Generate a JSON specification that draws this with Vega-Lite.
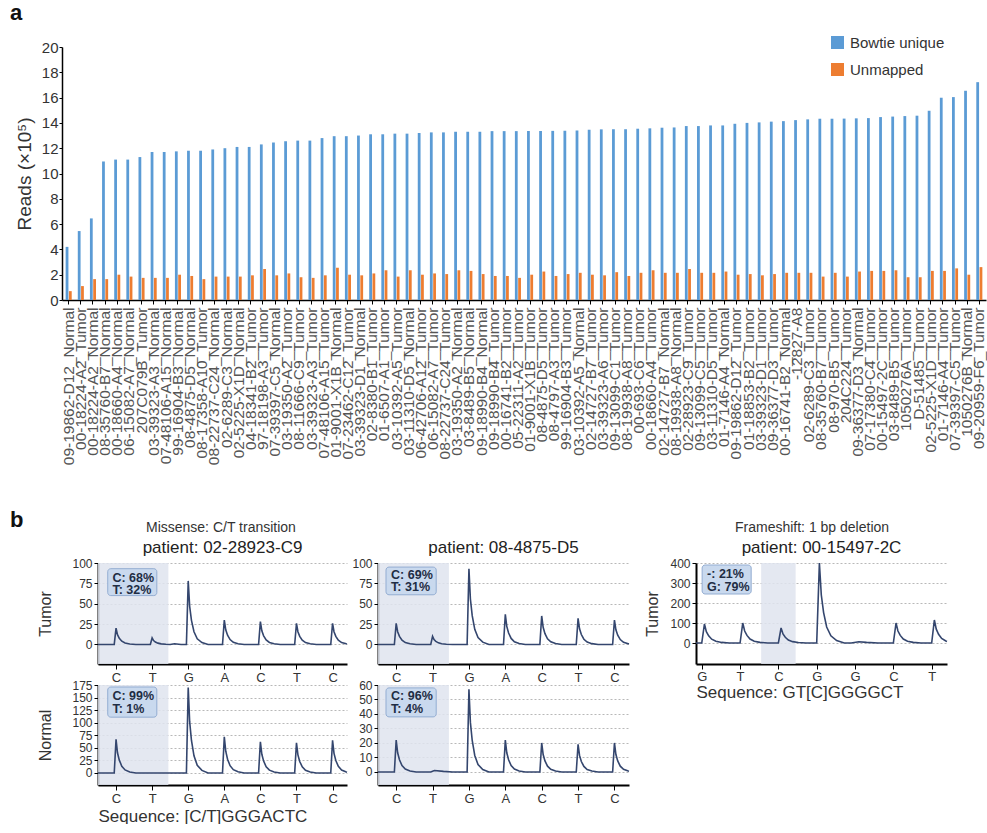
{
"$schema":"https://vega.github.io/schema/vega-lite/v6.json",
"background":"white",
"padding":{"left":10,"top":2,"right":0,"bottom":0},
"config":{"font":"Liberation Sans","view":{"stroke":null},"title":{"color":"#222","fontWeight":"normal"}},
"datasets":{
"reads":[
{"sample":"09-19862-D12_Normal","Bowtie unique":4.2,"Unmapped":0.7},
{"sample":"00-18224-A2_Tumor","Bowtie unique":5.45,"Unmapped":1.1},
{"sample":"00-18224-A2_Normal","Bowtie unique":6.45,"Unmapped":1.65},
{"sample":"08-35760-B7_Normal","Bowtie unique":10.95,"Unmapped":1.65},
{"sample":"00-18660-A4_Normal","Bowtie unique":11.1,"Unmapped":2.0},
{"sample":"06-15082-A7_Normal","Bowtie unique":11.1,"Unmapped":1.85},
{"sample":"207C079B_Tumor","Bowtie unique":11.3,"Unmapped":1.75},
{"sample":"03-39323-A3_Normal","Bowtie unique":11.7,"Unmapped":1.75},
{"sample":"07-48106-A15_Normal","Bowtie unique":11.7,"Unmapped":1.75},
{"sample":"99-16904-B3_Normal","Bowtie unique":11.75,"Unmapped":2.0},
{"sample":"08-4875-D5_Normal","Bowtie unique":11.8,"Unmapped":1.9},
{"sample":"08-17358-A10_Tumor","Bowtie unique":11.8,"Unmapped":1.65},
{"sample":"08-22737-C24_Normal","Bowtie unique":11.9,"Unmapped":1.85},
{"sample":"02-6289-C3_Normal","Bowtie unique":12.0,"Unmapped":1.85},
{"sample":"02-5225-X1D_Normal","Bowtie unique":12.1,"Unmapped":1.85},
{"sample":"04-18341-B2_Tumor","Bowtie unique":12.1,"Unmapped":1.95},
{"sample":"97-18198-A3_Tumor","Bowtie unique":12.3,"Unmapped":2.45},
{"sample":"07-39397-C5_Normal","Bowtie unique":12.45,"Unmapped":1.95},
{"sample":"03-19350-A2_Tumor","Bowtie unique":12.55,"Unmapped":2.1},
{"sample":"08-11666-C9_Tumor","Bowtie unique":12.6,"Unmapped":1.8},
{"sample":"03-39323-A3_Tumor","Bowtie unique":12.6,"Unmapped":1.75},
{"sample":"07-48106-A15_Tumor","Bowtie unique":12.8,"Unmapped":1.95},
{"sample":"01-9001-X1B_Normal","Bowtie unique":12.95,"Unmapped":2.55},
{"sample":"07-23462-C12_Tumor","Bowtie unique":12.95,"Unmapped":2.0},
{"sample":"03-39323-D1_Normal","Bowtie unique":13.0,"Unmapped":1.95},
{"sample":"02-8380-B1_Tumor","Bowtie unique":13.1,"Unmapped":2.1},
{"sample":"01-6507-A1_Tumor","Bowtie unique":13.1,"Unmapped":2.35},
{"sample":"03-10392-A5_Tumor","Bowtie unique":13.15,"Unmapped":1.85},
{"sample":"03-11310-D5_Normal","Bowtie unique":13.15,"Unmapped":2.35},
{"sample":"06-42706-A12_Tumor","Bowtie unique":13.2,"Unmapped":2.0},
{"sample":"06-15082-A7_Tumor","Bowtie unique":13.25,"Unmapped":2.1},
{"sample":"08-22737-C24_Tumor","Bowtie unique":13.25,"Unmapped":2.05},
{"sample":"03-19350-A2_Normal","Bowtie unique":13.3,"Unmapped":2.35},
{"sample":"03-8489-B5_Normal","Bowtie unique":13.3,"Unmapped":2.3},
{"sample":"09-18990-B4_Normal","Bowtie unique":13.3,"Unmapped":2.05},
{"sample":"09-18990-B4_Tumor","Bowtie unique":13.35,"Unmapped":1.9},
{"sample":"00-16741-B2_Tumor","Bowtie unique":13.35,"Unmapped":1.9},
{"sample":"05-22311-A2_Tumor","Bowtie unique":13.35,"Unmapped":1.75},
{"sample":"01-9001-X1B_Tumor","Bowtie unique":13.36,"Unmapped":2.0},
{"sample":"08-4875-D5_Tumor","Bowtie unique":13.36,"Unmapped":2.25},
{"sample":"08-4797-A3_Tumor","Bowtie unique":13.37,"Unmapped":1.9},
{"sample":"99-16904-B3_Tumor","Bowtie unique":13.38,"Unmapped":2.05},
{"sample":"03-10392-A5_Normal","Bowtie unique":13.4,"Unmapped":2.15},
{"sample":"02-14727-B7_Tumor","Bowtie unique":13.46,"Unmapped":2.0},
{"sample":"03-39323-A6_Tumor","Bowtie unique":13.49,"Unmapped":1.95},
{"sample":"09-13099-C1_Tumor","Bowtie unique":13.5,"Unmapped":2.2},
{"sample":"08-19938-A8_Tumor","Bowtie unique":13.5,"Unmapped":1.9},
{"sample":"00-693-C6_Tumor","Bowtie unique":13.54,"Unmapped":2.15},
{"sample":"00-18660-A4_Tumor","Bowtie unique":13.57,"Unmapped":2.35},
{"sample":"02-14727-B7_Normal","Bowtie unique":13.62,"Unmapped":2.15},
{"sample":"08-19938-A8_Normal","Bowtie unique":13.64,"Unmapped":2.15},
{"sample":"02-28923-C9_Tumor","Bowtie unique":13.75,"Unmapped":2.45},
{"sample":"09-13099-C5_Tumor","Bowtie unique":13.75,"Unmapped":2.15},
{"sample":"03-11310-D5_Tumor","Bowtie unique":13.8,"Unmapped":2.15},
{"sample":"01-7146-A4_Normal","Bowtie unique":13.8,"Unmapped":2.25},
{"sample":"09-19862-D12_Tumor","Bowtie unique":13.93,"Unmapped":2.0},
{"sample":"01-18853-B2_Tumor","Bowtie unique":14.0,"Unmapped":2.05},
{"sample":"03-39323-D1_Tumor","Bowtie unique":14.04,"Unmapped":1.95},
{"sample":"09-36377-D3_Tumor","Bowtie unique":14.1,"Unmapped":2.05},
{"sample":"00-16741-B2_Normal","Bowtie unique":14.14,"Unmapped":2.15},
{"sample":"-12827-A8","Bowtie unique":14.22,"Unmapped":2.15},
{"sample":"02-6289-C3_Tumor","Bowtie unique":14.28,"Unmapped":2.15},
{"sample":"08-35760-B7_Tumor","Bowtie unique":14.33,"Unmapped":1.85},
{"sample":"08-970-B5_Tumor","Bowtie unique":14.33,"Unmapped":2.15},
{"sample":"204C224_Tumor","Bowtie unique":14.34,"Unmapped":1.85},
{"sample":"09-36377-D3_Normal","Bowtie unique":14.36,"Unmapped":2.25},
{"sample":"07-17380-C4_Tumor","Bowtie unique":14.38,"Unmapped":2.3},
{"sample":"00-15497-2C_Tumor","Bowtie unique":14.46,"Unmapped":2.3},
{"sample":"03-8489-B5_Tumor","Bowtie unique":14.5,"Unmapped":2.35},
{"sample":"1050276A_Tumor","Bowtie unique":14.54,"Unmapped":1.8},
{"sample":"D-51485_Tumor","Bowtie unique":14.57,"Unmapped":1.8},
{"sample":"02-5225-X1D_Tumor","Bowtie unique":14.96,"Unmapped":2.3},
{"sample":"01-7146-A4_Tumor","Bowtie unique":15.99,"Unmapped":2.3},
{"sample":"07-39397-C5_Tumor","Bowtie unique":16.04,"Unmapped":2.5},
{"sample":"1050276B_Normal","Bowtie unique":16.54,"Unmapped":2.0},
{"sample":"09-20959-F6_Tumor","Bowtie unique":17.22,"Unmapped":2.6}
],
"t1":[
{"x":-0.5,"y":0},{"x":-0.05,"y":0},{"x":0,"y":20},{"x":0.04,"y":12},{"x":0.09,"y":7.6},{"x":0.16,"y":4},{"x":0.25,"y":1.8},{"x":0.38,"y":0.6},{"x":0.55,"y":0},
{"x":0.95,"y":0},{"x":1,"y":8},{"x":1.04,"y":4.8},{"x":1.09,"y":3},{"x":1.16,"y":1.6},{"x":1.25,"y":0.7},{"x":1.38,"y":0.2},{"x":1.5,"y":0},{"x":1.62,"y":0.8},{"x":1.8,"y":0},
{"x":1.95,"y":0},{"x":2,"y":78},{"x":2.04,"y":46.8},{"x":2.09,"y":29.6},{"x":2.16,"y":15.6},{"x":2.25,"y":7},{"x":2.38,"y":2.3},{"x":2.55,"y":0},
{"x":2.95,"y":0},{"x":3,"y":30},{"x":3.04,"y":18},{"x":3.09,"y":11.4},{"x":3.16,"y":6},{"x":3.25,"y":2.7},{"x":3.38,"y":0.9},{"x":3.55,"y":0},
{"x":3.95,"y":0},{"x":4,"y":28},{"x":4.04,"y":16.8},{"x":4.09,"y":10.6},{"x":4.16,"y":5.6},{"x":4.25,"y":2.5},{"x":4.38,"y":0.8},{"x":4.55,"y":0},
{"x":4.95,"y":0},{"x":5,"y":26},{"x":5.04,"y":15.6},{"x":5.09,"y":9.9},{"x":5.16,"y":5.2},{"x":5.25,"y":2.3},{"x":5.38,"y":0.8},{"x":5.55,"y":0},
{"x":5.95,"y":0},{"x":6,"y":26},{"x":6.04,"y":15.6},{"x":6.09,"y":9.9},{"x":6.16,"y":5.2},{"x":6.25,"y":2.3},{"x":6.38,"y":0.8},{"x":6.4,"y":0.6}
],
"n1":[
{"x":-0.5,"y":0},{"x":-0.05,"y":0},{"x":0,"y":67},{"x":0.04,"y":40.2},{"x":0.09,"y":25.5},{"x":0.16,"y":13.4},{"x":0.25,"y":6},{"x":0.38,"y":2},{"x":0.55,"y":0},
{"x":1.95,"y":0},{"x":2,"y":170},{"x":2.04,"y":102},{"x":2.09,"y":64.6},{"x":2.16,"y":34},{"x":2.25,"y":15.3},{"x":2.38,"y":5.1},{"x":2.55,"y":0},
{"x":2.95,"y":0},{"x":3,"y":72},{"x":3.04,"y":43.2},{"x":3.09,"y":27.4},{"x":3.16,"y":14.4},{"x":3.25,"y":6.5},{"x":3.38,"y":2.2},{"x":3.55,"y":0},
{"x":3.95,"y":0},{"x":4,"y":62},{"x":4.04,"y":37.2},{"x":4.09,"y":23.6},{"x":4.16,"y":12.4},{"x":4.25,"y":5.6},{"x":4.38,"y":1.9},{"x":4.55,"y":0},
{"x":4.95,"y":0},{"x":5,"y":60},{"x":5.04,"y":36},{"x":5.09,"y":22.8},{"x":5.16,"y":12},{"x":5.25,"y":5.4},{"x":5.38,"y":1.8},{"x":5.55,"y":0},
{"x":5.95,"y":0},{"x":6,"y":65},{"x":6.04,"y":39},{"x":6.09,"y":24.7},{"x":6.16,"y":13},{"x":6.25,"y":5.9},{"x":6.38,"y":2},{"x":6.4,"y":1.5}
],
"t2":[
{"x":-0.5,"y":0},{"x":-0.05,"y":0},{"x":0,"y":26},{"x":0.04,"y":15.6},{"x":0.09,"y":9.9},{"x":0.16,"y":5.2},{"x":0.25,"y":2.3},{"x":0.38,"y":0.8},{"x":0.55,"y":0},
{"x":0.95,"y":0},{"x":1,"y":10},{"x":1.04,"y":6},{"x":1.09,"y":3.8},{"x":1.16,"y":2},{"x":1.25,"y":0.9},{"x":1.38,"y":0.3},{"x":1.55,"y":0},
{"x":1.95,"y":0},{"x":2,"y":93},{"x":2.04,"y":55.8},{"x":2.09,"y":35.3},{"x":2.16,"y":18.6},{"x":2.25,"y":8.4},{"x":2.38,"y":2.8},{"x":2.55,"y":0},
{"x":2.95,"y":0},{"x":3,"y":37},{"x":3.04,"y":22.2},{"x":3.09,"y":14.1},{"x":3.16,"y":7.4},{"x":3.25,"y":3.3},{"x":3.38,"y":1.1},{"x":3.55,"y":0},
{"x":3.95,"y":0},{"x":4,"y":35},{"x":4.04,"y":21},{"x":4.09,"y":13.3},{"x":4.16,"y":7},{"x":4.25,"y":3.2},{"x":4.38,"y":1.1},{"x":4.55,"y":0},
{"x":4.95,"y":0},{"x":5,"y":32},{"x":5.04,"y":19.2},{"x":5.09,"y":12.2},{"x":5.16,"y":6.4},{"x":5.25,"y":2.9},{"x":5.38,"y":1},{"x":5.55,"y":0},
{"x":5.95,"y":0},{"x":6,"y":30},{"x":6.04,"y":18},{"x":6.09,"y":11.4},{"x":6.16,"y":6},{"x":6.25,"y":2.7},{"x":6.38,"y":0.9},{"x":6.4,"y":0.7}
],
"n2":[
{"x":-0.5,"y":0},{"x":-0.05,"y":0},{"x":0,"y":22},{"x":0.04,"y":13.2},{"x":0.09,"y":8.4},{"x":0.16,"y":4.4},{"x":0.25,"y":2},{"x":0.38,"y":0.7},{"x":0.55,"y":0},
{"x":0.95,"y":0},{"x":1.05,"y":1},{"x":1.3,"y":0.4},{"x":1.55,"y":0},
{"x":1.95,"y":0},{"x":2,"y":57},{"x":2.04,"y":34.2},{"x":2.09,"y":21.7},{"x":2.16,"y":11.4},{"x":2.25,"y":5.1},{"x":2.38,"y":1.7},{"x":2.55,"y":0},
{"x":2.95,"y":0},{"x":3,"y":22},{"x":3.04,"y":13.2},{"x":3.09,"y":8.4},{"x":3.16,"y":4.4},{"x":3.25,"y":2},{"x":3.38,"y":0.7},{"x":3.55,"y":0},
{"x":3.95,"y":0},{"x":4,"y":20},{"x":4.04,"y":12},{"x":4.09,"y":7.6},{"x":4.16,"y":4},{"x":4.25,"y":1.8},{"x":4.38,"y":0.6},{"x":4.55,"y":0},
{"x":4.95,"y":0},{"x":5,"y":19},{"x":5.04,"y":11.4},{"x":5.09,"y":7.2},{"x":5.16,"y":3.8},{"x":5.25,"y":1.7},{"x":5.38,"y":0.6},{"x":5.55,"y":0},
{"x":5.95,"y":0},{"x":6,"y":20},{"x":6.04,"y":12},{"x":6.09,"y":7.6},{"x":6.16,"y":4},{"x":6.25,"y":1.8},{"x":6.38,"y":0.6},{"x":6.4,"y":0.5}
],
"t3":[
{"x":-0.15,"y":0},{"x":0,"y":0},{"x":0.07,"y":95},{"x":0.12,"y":57},{"x":0.18,"y":36.1},{"x":0.26,"y":19},{"x":0.37,"y":8.6},{"x":0.52,"y":2.9},{"x":0.72,"y":0},
{"x":1,"y":0},{"x":1.07,"y":100},{"x":1.12,"y":60},{"x":1.18,"y":38},{"x":1.26,"y":20},{"x":1.37,"y":9},{"x":1.52,"y":3},{"x":1.72,"y":0},
{"x":2,"y":0},{"x":2.07,"y":75},{"x":2.12,"y":45},{"x":2.18,"y":28.5},{"x":2.26,"y":15},{"x":2.37,"y":6.8},{"x":2.52,"y":2.3},{"x":2.72,"y":0},
{"x":3,"y":0},{"x":3.07,"y":400},{"x":3.12,"y":240},{"x":3.18,"y":152},{"x":3.26,"y":80},{"x":3.37,"y":36},{"x":3.52,"y":12},{"x":3.72,"y":0},
{"x":3.9,"y":0},{"x":4.1,"y":6},{"x":4.3,"y":3},{"x":4.6,"y":0},
{"x":5,"y":0},{"x":5.07,"y":100},{"x":5.12,"y":60},{"x":5.18,"y":38},{"x":5.26,"y":20},{"x":5.37,"y":9},{"x":5.52,"y":3},{"x":5.72,"y":0},
{"x":6,"y":0},{"x":6.07,"y":115},{"x":6.12,"y":69},{"x":6.18,"y":43.7},{"x":6.26,"y":23},{"x":6.37,"y":10.4},{"x":6.4,"y":8}
]
},
"spacing":44,
"vconcat":[
{
"width":924,"height":253,
"title":{"text":"a","anchor":"start","frame":"group","dx":-52,"fontSize":22,"fontWeight":"bold","offset":15,"color":"#111"},
"data":{"name":"reads"},
"transform":[{"fold":["Bowtie unique","Unmapped"],"as":["series","value"]}],
"mark":{"type":"bar"},
"encoding":{
"x":{"field":"sample","type":"nominal","sort":null,"scale":{"paddingInner":0.5,"paddingOuter":0.3},
 "axis":{"title":null,"labelAngle":-90,"labelFontSize":15.5,"labelColor":"#555","labelLimit":400,"labelPadding":3,"labelOverlap":false,"tickSize":4,"tickColor":"#000","domainColor":"#000","domainWidth":1.5}},
"xOffset":{"field":"series","type":"nominal","scale":{"paddingInner":0.15}},
"y":{"field":"value","type":"quantitative","scale":{"domain":[0,20],"nice":false},
 "axis":{"title":"Reads (×10⁵)","titleFontSize":19,"titleFontWeight":"normal","titleColor":"#333","titlePadding":7,"values":[0,2,4,6,8,10,12,14,16,18,20],"tickCount":20,"grid":false,"labelFontSize":15,"labelColor":"#333","tickSize":3,"tickColor":"#000","labelPadding":1,"domainColor":"#000","domainWidth":1.5}},
"color":{"field":"series","type":"nominal","scale":{"domain":["Bowtie unique","Unmapped"],"range":["#5b9bd5","#ed7d31"]},
 "legend":{"title":null,"orient":"none","legendX":768,"legendY":-12,"symbolType":"square","symbolSize":169,"symbolStrokeWidth":0,"labelFontSize":15,"labelColor":"#333","rowPadding":11,"padding":0,"labelOffset":5}}
}
},
{
"spacing":-26,
"hconcat":[
{"width":1,"height":1,"data":{"values":[]},"mark":"point",
 "title":{"text":"b","anchor":"start","dx":-52,"fontSize":22,"fontWeight":"bold","offset":31,"color":"#111"}},
{
"spacing":11,
"hconcat":[
{
"title":{"text":"Missense: C/T transition","anchor":"start","dx":108,"fontSize":14,"offset":4,"color":"#333"},
"spacing":0,
"hconcat":[
{"bounds":"flush","spacing":21,"vconcat":[
{"width":249,"height":101,
"title":{"text":"patient: 02-28923-C9","frame":"group","fontSize":17,"offset":0},
"layer":[
{"data":{"values":[{"x":-0.5,"x2":1.45}]},"mark":{"type":"rect","color":"#dfe4ee","opacity":0.85},"encoding":{"x":{"field":"x","type":"quantitative"},"x2":{"field":"x2"}}},
{"data":{"name":"t1"},"mark":{"type":"line","color":"#34466e","strokeWidth":1.6},
"encoding":{
"x":{"field":"x","type":"quantitative","scale":{"domain":[-0.5,6.4],"nice":false,"zero":false},"axis":{"title":null,"values":[0,1,2,3,4,5,6],"tickCount":10,"labelExpr":"['C','T','G','A','C','T','C'][datum.value]","labelFontSize":13,"labelColor":"#333","grid":false,"tickSize":5,"tickColor":"#000","domainColor":"#000","domainWidth":2,"labelPadding":2,"labelFlush":false,"labelOverlap":false}},
"y":{"field":"y","type":"quantitative","scale":{"domain":[-24,100],"nice":false,"zero":false},"axis":{"title":"Tumor","titleFontSize":16,"titleFontWeight":"normal","titleColor":"#333","titlePadding":18,"values":[0,25,50,75,100],"tickCount":10,"labelFontSize":12,"labelColor":"#333","labelOverlap":false,"grid":true,"gridColor":"#b8b8b8","gridDash":[2,2],"tickSize":4,"tickColor":"#000","domainColor":"#000","domainWidth":2,"labelPadding":2}}}},
{"data":{"values":[{"x":-0.23,"x2":1.13,"y":93,"y2":60}]},"mark":{"type":"rect","fill":"#c9d9ee","stroke":"#93add2","strokeWidth":1,"cornerRadius":3},"encoding":{"x":{"field":"x","type":"quantitative"},"x2":{"field":"x2"},"y":{"field":"y","type":"quantitative"},"y2":{"field":"y2"}}},
{"data":{"values":[{"x":-0.1,"y":82,"t":"C: 68%"},{"x":-0.1,"y":67,"t":"T: 32%"}]},"mark":{"type":"text","align":"left","baseline":"middle","fontWeight":"bold","fontSize":12.5,"color":"#1f2d44"},"encoding":{"x":{"field":"x","type":"quantitative"},"y":{"field":"y","type":"quantitative"},"text":{"field":"t"}}}
]},
{"width":249,"height":100,
"layer":[
{"data":{"values":[{"x":-0.5,"x2":1.45}]},"mark":{"type":"rect","color":"#dfe4ee","opacity":0.85},"encoding":{"x":{"field":"x","type":"quantitative"},"x2":{"field":"x2"}}},
{"data":{"name":"n1"},"mark":{"type":"line","color":"#34466e","strokeWidth":1.6},
"encoding":{
"x":{"field":"x","type":"quantitative","scale":{"domain":[-0.5,6.4],"nice":false,"zero":false},"axis":{"title":"Sequence: [C/T]GGGACTC","titleFontSize":17,"titleFontWeight":"normal","titleColor":"#333","titleAnchor":"start","titlePadding":3,"values":[0,1,2,3,4,5,6],"tickCount":10,"labelExpr":"['C','T','G','A','C','T','C'][datum.value]","labelFontSize":13,"labelColor":"#333","grid":false,"tickSize":5,"tickColor":"#000","domainColor":"#000","domainWidth":2,"labelPadding":2,"labelFlush":false,"labelOverlap":false}},
"y":{"field":"y","type":"quantitative","scale":{"domain":[-24,175],"nice":false,"zero":false},"axis":{"title":"Normal","titleFontSize":16,"titleFontWeight":"normal","titleColor":"#333","titlePadding":18,"values":[0,25,50,75,100,125,150,175],"tickCount":10,"labelFontSize":12,"labelColor":"#333","labelOverlap":false,"grid":true,"gridColor":"#b8b8b8","gridDash":[2,2],"tickSize":4,"tickColor":"#000","domainColor":"#000","domainWidth":2,"labelPadding":2}}}},
{"data":{"values":[{"x":-0.23,"x2":1.13,"y":171,"y2":111}]},"mark":{"type":"rect","fill":"#c9d9ee","stroke":"#93add2","strokeWidth":1,"cornerRadius":3},"encoding":{"x":{"field":"x","type":"quantitative"},"x2":{"field":"x2"},"y":{"field":"y","type":"quantitative"},"y2":{"field":"y2"}}},
{"data":{"values":[{"x":-0.1,"y":153,"t":"C: 99%"},{"x":-0.1,"y":127,"t":"T: 1%"}]},"mark":{"type":"text","align":"left","baseline":"middle","fontWeight":"bold","fontSize":12.5,"color":"#1f2d44"},"encoding":{"x":{"field":"x","type":"quantitative"},"y":{"field":"y","type":"quantitative"},"text":{"field":"t"}}}
]}
]},
{"bounds":"flush","spacing":21,"vconcat":[
{"width":251,"height":101,
"title":{"text":"patient: 08-4875-D5","frame":"group","fontSize":17,"offset":0},
"layer":[
{"data":{"values":[{"x":-0.5,"x2":1.45}]},"mark":{"type":"rect","color":"#dfe4ee","opacity":0.85},"encoding":{"x":{"field":"x","type":"quantitative"},"x2":{"field":"x2"}}},
{"data":{"name":"t2"},"mark":{"type":"line","color":"#34466e","strokeWidth":1.6},
"encoding":{
"x":{"field":"x","type":"quantitative","scale":{"domain":[-0.5,6.4],"nice":false,"zero":false},"axis":{"title":null,"values":[0,1,2,3,4,5,6],"tickCount":10,"labelExpr":"['C','T','G','A','C','T','C'][datum.value]","labelFontSize":13,"labelColor":"#333","grid":false,"tickSize":5,"tickColor":"#000","domainColor":"#000","domainWidth":2,"labelPadding":2,"labelFlush":false,"labelOverlap":false}},
"y":{"field":"y","type":"quantitative","scale":{"domain":[-24,100],"nice":false,"zero":false},"axis":{"title":null,"values":[0,25,50,75,100],"tickCount":10,"labelFontSize":12,"labelColor":"#333","labelOverlap":false,"grid":true,"gridColor":"#b8b8b8","gridDash":[2,2],"tickSize":4,"tickColor":"#000","domainColor":"#000","domainWidth":2,"labelPadding":2}}}},
{"data":{"values":[{"x":-0.28,"x2":1.1,"y":95,"y2":61}]},"mark":{"type":"rect","fill":"#c9d9ee","stroke":"#93add2","strokeWidth":1,"cornerRadius":3},"encoding":{"x":{"field":"x","type":"quantitative"},"x2":{"field":"x2"},"y":{"field":"y","type":"quantitative"},"y2":{"field":"y2"}}},
{"data":{"values":[{"x":-0.14,"y":85,"t":"C: 69%"},{"x":-0.14,"y":70,"t":"T: 31%"}]},"mark":{"type":"text","align":"left","baseline":"middle","fontWeight":"bold","fontSize":12.5,"color":"#1f2d44"},"encoding":{"x":{"field":"x","type":"quantitative"},"y":{"field":"y","type":"quantitative"},"text":{"field":"t"}}}
]},
{"width":251,"height":100,
"layer":[
{"data":{"values":[{"x":-0.5,"x2":1.45}]},"mark":{"type":"rect","color":"#dfe4ee","opacity":0.85},"encoding":{"x":{"field":"x","type":"quantitative"},"x2":{"field":"x2"}}},
{"data":{"name":"n2"},"mark":{"type":"line","color":"#34466e","strokeWidth":1.6},
"encoding":{
"x":{"field":"x","type":"quantitative","scale":{"domain":[-0.5,6.4],"nice":false,"zero":false},"axis":{"title":null,"values":[0,1,2,3,4,5,6],"tickCount":10,"labelExpr":"['C','T','G','A','C','T','C'][datum.value]","labelFontSize":13,"labelColor":"#333","grid":false,"tickSize":5,"tickColor":"#000","domainColor":"#000","domainWidth":2,"labelPadding":2,"labelFlush":false,"labelOverlap":false}},
"y":{"field":"y","type":"quantitative","scale":{"domain":[-9,60],"nice":false,"zero":false},"axis":{"title":null,"values":[0,10,20,30,40,50,60],"tickCount":10,"labelFontSize":12,"labelColor":"#333","labelOverlap":false,"grid":true,"gridColor":"#b8b8b8","gridDash":[2,2],"tickSize":4,"tickColor":"#000","domainColor":"#000","domainWidth":2,"labelPadding":2}}}},
{"data":{"values":[{"x":-0.28,"x2":1.1,"y":58,"y2":38}]},"mark":{"type":"rect","fill":"#c9d9ee","stroke":"#93add2","strokeWidth":1,"cornerRadius":3},"encoding":{"x":{"field":"x","type":"quantitative"},"x2":{"field":"x2"},"y":{"field":"y","type":"quantitative"},"y2":{"field":"y2"}}},
{"data":{"values":[{"x":-0.14,"y":52.5,"t":"C: 96%"},{"x":-0.14,"y":43.5,"t":"T: 4%"}]},"mark":{"type":"text","align":"left","baseline":"middle","fontWeight":"bold","fontSize":12.5,"color":"#1f2d44"},"encoding":{"x":{"field":"x","type":"quantitative"},"y":{"field":"y","type":"quantitative"},"text":{"field":"t"}}}
]}
]}
]
},
{
"title":{"text":"Frameshift: 1 bp deletion","anchor":"start","dx":90,"fontSize":14,"offset":4,"color":"#333"},
"vconcat":[
{"width":251,"height":101,
"title":{"text":"patient: 00-15497-2C","frame":"group","fontSize":17,"offset":0},
"layer":[
{"data":{"values":[{"x":1.55,"x2":2.45}]},"mark":{"type":"rect","color":"#dfe4ee","opacity":0.85},"encoding":{"x":{"field":"x","type":"quantitative"},"x2":{"field":"x2"}}},
{"data":{"name":"t3"},"mark":{"type":"line","color":"#34466e","strokeWidth":1.6},
"encoding":{
"x":{"field":"x","type":"quantitative","scale":{"domain":[-0.15,6.4],"nice":false,"zero":false},"axis":{"title":"Sequence: GT[C]GGGGCT","titleFontSize":17,"titleFontWeight":"normal","titleColor":"#333","titleAnchor":"start","titlePadding":1,"values":[0,1,2,3,4,5,6],"tickCount":10,"labelExpr":"['G','T','C','G','G','C','T'][datum.value]","labelFontSize":13,"labelColor":"#333","grid":false,"tickSize":5,"tickColor":"#000","domainColor":"#000","domainWidth":2,"labelPadding":1,"labelFlush":false,"labelOverlap":false}},
"y":{"field":"y","type":"quantitative","scale":{"domain":[-105,400],"nice":false,"zero":false},"axis":{"title":"Tumor","titleFontSize":16,"titleFontWeight":"normal","titleColor":"#333","titlePadding":9,"values":[0,100,200,300,400],"tickCount":10,"labelFontSize":12,"labelColor":"#333","labelOverlap":false,"grid":true,"gridColor":"#b8b8b8","gridDash":[2,2],"tickSize":4,"tickColor":"#000","domainColor":"#000","domainWidth":2,"labelPadding":2}}}},
{"data":{"values":[{"x":0.01,"x2":1.29,"y":390,"y2":245}]},"mark":{"type":"rect","fill":"#c9d9ee","stroke":"#93add2","strokeWidth":1,"cornerRadius":3},"encoding":{"x":{"field":"x","type":"quantitative"},"x2":{"field":"x2"},"y":{"field":"y","type":"quantitative"},"y2":{"field":"y2"}}},
{"data":{"values":[{"x":0.14,"y":345,"t":"-: 21%"},{"x":0.14,"y":280,"t":"G: 79%"}]},"mark":{"type":"text","align":"left","baseline":"middle","fontWeight":"bold","fontSize":12.5,"color":"#1f2d44"},"encoding":{"x":{"field":"x","type":"quantitative"},"y":{"field":"y","type":"quantitative"},"text":{"field":"t"}}}
]}
]
}
]
}
]
}
]
}
